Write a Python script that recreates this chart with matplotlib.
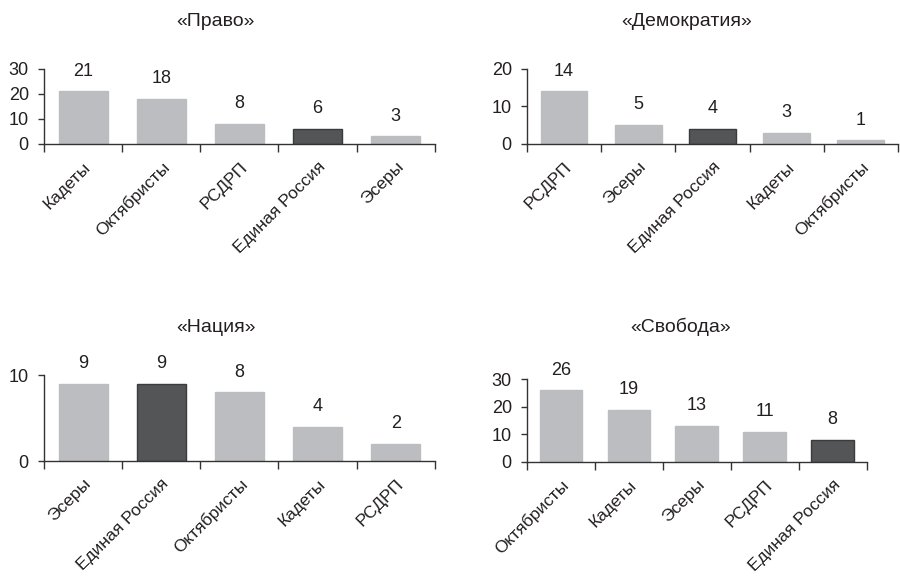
import matplotlib
matplotlib.use("Agg")
import matplotlib.pyplot as plt
import matplotlib.transforms as mtransforms

plt.rcParams['font.family'] = ['Liberation Sans', 'DejaVu Sans']

titles = ["«Право»", "«Демократия»", "«Нация»", "«Свобода»"]

cats_pravo = ["Кадеты", "Октябристы", "РСДРП", "Единая Россия", "Эсеры"]
vals_pravo = [21, 18, 8, 6, 3]

cats_demo = ["РСДРП", "Эсеры", "Единая Россия", "Кадеты", "Октябристы"]
vals_demo = [14, 5, 4, 3, 1]

cats_nacia = ["Эсеры", "Единая Россия", "Октябристы", "Кадеты", "РСДРП"]
vals_nacia = [9, 9, 8, 4, 2]

cats_svoboda = ["Октябристы", "Кадеты", "Эсеры", "РСДРП", "Единая Россия"]
vals_svoboda = [26, 19, 13, 11, 8]

ylims = [(0, 30, [0, 10, 20, 30]), (0, 20, [0, 10, 20]), (0, 10, [0, 10]), (0, 30, [0, 10, 20, 30])]

panels = [(cats_pravo, vals_pravo), (cats_demo, vals_demo),
          (cats_nacia, vals_nacia), (cats_svoboda, vals_svoboda)]

rects = [
    [0.049, 0.751, 0.434, 0.130],
    [0.5856, 0.751, 0.412, 0.130],
    [0.049, 0.2024, 0.434, 0.1488],
    [0.5856, 0.2007, 0.3774, 0.1433],
]
title_pos = [(0.239, 0.962), (0.763, 0.962), (0.240, 0.434), (0.756, 0.434)]

LIGHT = "#bcbdc0"
DARK = "#545557"
TXT = "#231f20"
AX = "#333333"

fig = plt.figure(figsize=(9, 5.78), dpi=100)
shift = mtransforms.ScaledTranslation(7 / 100, 0, fig.dpi_scale_trans)
for (cats, vals), rect, (lo, hi, ticks), title, tp in zip(panels, rects, ylims, titles, title_pos):
    ax = fig.add_axes(rect)
    x = list(range(len(cats)))
    colors = [DARK if c == "Единая Россия" else LIGHT for c in cats]
    edges = ["#3a3b3d" if c == "Единая Россия" else LIGHT for c in cats]
    ax.bar(x, vals, width=0.63, color=colors, edgecolor=edges, linewidth=1.0)
    for xi, v in zip(x, vals):
        ax.annotate(str(v), (xi, v), xytext=(0, 14.5), textcoords="offset points",
                    ha="center", va="center", fontsize=13, color=TXT, annotation_clip=False)
    ax.set_xlim(-0.5, len(cats) - 0.5)
    ax.set_ylim(lo, hi)
    ax.set_yticks(ticks)
    ax.set_yticklabels([str(t) for t in ticks], fontsize=13, color=TXT)
    ax.set_xticks([i - 0.5 for i in range(len(cats) + 1)])
    ax.set_xticklabels([])
    ax.set_xticks(x, minor=True)
    ax.set_xticklabels(cats, minor=True, rotation=45, ha="right", va="top",
                       rotation_mode="anchor", fontsize=12.5, color=TXT)
    for lbl in ax.get_xticklabels(minor=True):
        lbl.set_transform(lbl.get_transform() + shift)
    ax.tick_params(axis="x", which="minor", length=0, pad=11)
    ax.tick_params(axis="x", which="major", length=6, width=1, color=AX, direction="out")
    ax.tick_params(axis="y", length=4, width=1, color=AX, direction="out", pad=7)
    for s in ["top", "right"]:
        ax.spines[s].set_visible(False)
    for s in ["left", "bottom"]:
        ax.spines[s].set_color(AX)
        ax.spines[s].set_linewidth(1)
    fig.text(tp[0], tp[1], title, ha="center", va="center", fontsize=14, color=TXT)

fig.savefig("out.png", dpi=100, facecolor="white")
